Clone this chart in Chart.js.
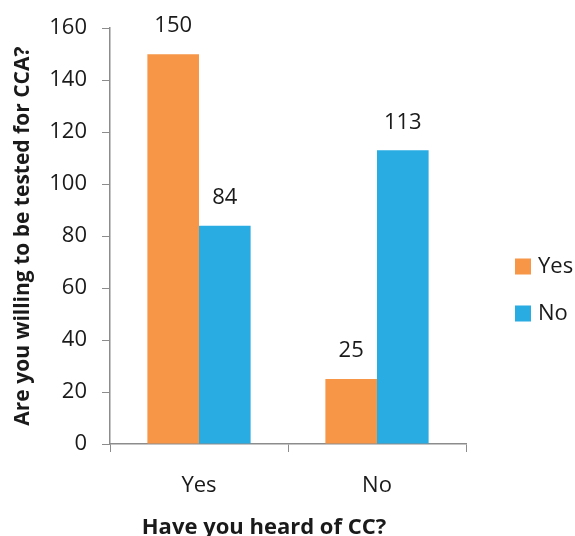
<!DOCTYPE html>
<html>
<head>
<meta charset="utf-8">
<script src="https://cdn.jsdelivr.net/npm/chart.js@4/dist/chart.umd.min.js"></script>
<style>
  html, body { margin: 0; padding: 0; background: #fff; }
  #wrap { width: 575px; height: 536px; }
</style>
</head>
<body>
<div id="wrap"><canvas id="c" width="575" height="536"></canvas></div>
<script>
// Answers grouped by "Have you heard of CC?"
const categories = ['Yes', 'No'];
const seriesNames = ['Yes', 'No'];
const willingYes = [150, 25];
const willingNo = [84, 113];
const yTicks = [0, 20, 40, 60, 80, 100, 120, 140, 160];
const xTitle = 'Have you heard of CC?';
const yTitle = 'Are you willing to be tested for CCA?';

const FONT = "'Open Sans', 'DejaVu Sans', sans-serif";
const TEXT = '#1a1a1a';
const AXIS = '#8c8c8c';

// Writes each bar's value just above it
const valueLabels = {
  id: 'valueLabels',
  afterDatasetsDraw(chart) {
    const ctx = chart.ctx;
    ctx.save();
    ctx.font = '22px ' + FONT;
    ctx.fillStyle = TEXT;
    ctx.textAlign = 'center';
    ctx.textBaseline = 'middle';
    chart.data.datasets.forEach((ds, i) => {
      chart.getDatasetMeta(i).data.forEach((el, j) => {
        ctx.fillText(String(ds.data[j]), el.x, el.y - 28);
      });
    });
    ctx.restore();
  }
};

// Legend column to the right of the plot, plus the category-axis title
const sideLegend = {
  id: 'sideLegend',
  afterDraw(chart) {
    const ctx = chart.ctx;
    const area = chart.chartArea;
    ctx.save();
    const x0 = area.right + 49;
    const yMid = 290;
    const gap = 47;
    ctx.font = '22px ' + FONT;
    ctx.textAlign = 'left';
    ctx.textBaseline = 'middle';
    chart.data.datasets.forEach((ds, i) => {
      const cy = yMid + (i - (chart.data.datasets.length - 1) / 2) * gap;
      ctx.fillStyle = ds.backgroundColor;
      ctx.fillRect(x0, cy - 8, 16, 16);
      ctx.fillStyle = TEXT;
      ctx.fillText(ds.label, x0 + 23, cy);
    });
    ctx.font = 'bold 22px ' + FONT;
    ctx.textAlign = 'center';
    ctx.textBaseline = 'alphabetic';
    ctx.fillText(xTitle, area.left + 154, 534);
    ctx.restore();
  }
};

new Chart(document.getElementById('c'), {
  type: 'bar',
  data: {
    labels: categories,
    datasets: [
      { label: seriesNames[0], data: willingYes, backgroundColor: '#F79646' },
      { label: seriesNames[1], data: willingNo, backgroundColor: '#29ACE2' }
    ]
  },
  options: {
    responsive: false,
    animation: false,
    devicePixelRatio: 1,
    layout: { padding: { top: 18, right: 109, bottom: 0, left: 0 } },
    datasets: { bar: { categoryPercentage: 0.58, barPercentage: 1.0 } },
    plugins: {
      legend: { display: false },
      tooltip: { enabled: false }
    },
    scales: {
      x: {
        afterFit(scale) { scale.height = 92; },
        grid: { drawOnChartArea: false, drawTicks: true, tickLength: 8, color: AXIS, offset: true },
        border: { color: AXIS, width: 1.5 },
        ticks: { font: { family: FONT, size: 22 }, color: TEXT, padding: 21 }
      },
      y: {
        min: 0,
        max: 160,
        afterFit(scale) { scale.width = 110; },
        afterBuildTicks(scale) { scale.ticks = yTicks.map(v => ({ value: v })); },
        grid: { drawOnChartArea: false, drawTicks: true, tickLength: 8, color: AXIS },
        border: { color: AXIS, width: 1.5 },
        ticks: { font: { family: FONT, size: 22 }, color: TEXT, padding: 15 },
        title: {
          display: true,
          text: yTitle,
          font: { family: FONT, size: 21, weight: 'bold' },
          color: TEXT,
          padding: { top: 10, bottom: 0 }
        }
      }
    }
  },
  plugins: [valueLabels, sideLegend]
});
</script>
</body>
</html>
